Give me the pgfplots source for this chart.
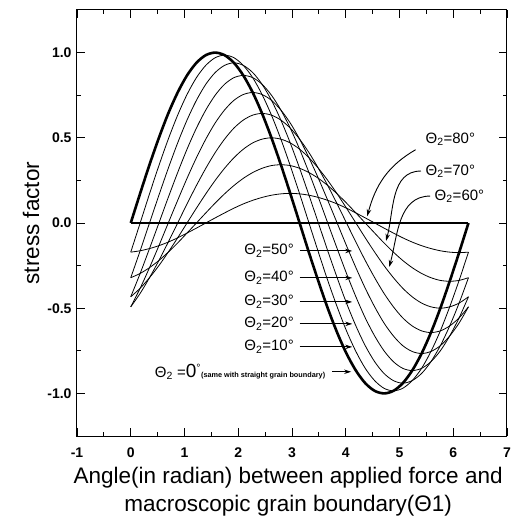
\documentclass[border=0pt]{standalone}
\usepackage{fontspec}
\setmainfont{Liberation Sans}
\usepackage{pgfplots}
\pgfplotsset{compat=1.18}
\usepackage{pgfplotstable}
\usetikzlibrary{arrows.meta}

% stress factor vs theta1, one column per theta2 (0..80 deg)
\pgfplotstableread{
x     s0     s10    s20    s30    s40    s50    s60    s70    s80
0.000  0.000 -0.171 -0.321 -0.433 -0.492 -0.492 -0.433 -0.321 -0.171
0.175  0.174  0.000 -0.163 -0.296 -0.383 -0.413 -0.383 -0.296 -0.163
0.349  0.342  0.171  0.000 -0.150 -0.262 -0.321 -0.321 -0.262 -0.150
0.524  0.500  0.337  0.163  0.000 -0.133 -0.220 -0.250 -0.220 -0.133
0.698  0.643  0.492  0.321  0.150  0.000 -0.112 -0.171 -0.171 -0.112
0.873  0.766  0.633  0.470  0.296  0.133  0.000 -0.087 -0.117 -0.087
1.047  0.866  0.754  0.604  0.433  0.262  0.112  0.000 -0.059 -0.059
1.222  0.940  0.853  0.720  0.557  0.383  0.220  0.087  0.000 -0.030
1.396  0.985  0.925  0.814  0.663  0.492  0.321  0.171  0.059  0.000
1.571  1.000  0.970  0.883  0.750  0.587  0.413  0.250  0.117  0.030
1.745  0.985  0.985  0.925  0.814  0.663  0.492  0.321  0.171  0.059
1.920  0.940  0.970  0.940  0.853  0.720  0.557  0.383  0.220  0.087
2.094  0.866  0.925  0.925  0.866  0.754  0.604  0.433  0.262  0.112
2.269  0.766  0.853  0.883  0.853  0.766  0.633  0.470  0.296  0.133
2.443  0.643  0.754  0.814  0.814  0.754  0.643  0.492  0.321  0.150
2.618  0.500  0.633  0.720  0.750  0.720  0.633  0.500  0.337  0.163
2.793  0.342  0.492  0.604  0.663  0.663  0.604  0.492  0.342  0.171
2.967  0.174  0.337  0.470  0.557  0.587  0.557  0.470  0.337  0.174
3.142  0.000  0.171  0.321  0.433  0.492  0.492  0.433  0.321  0.171
3.316 -0.174  0.000  0.163  0.296  0.383  0.413  0.383  0.296  0.163
3.491 -0.342 -0.171  0.000  0.150  0.262  0.321  0.321  0.262  0.150
3.665 -0.500 -0.337 -0.163  0.000  0.133  0.220  0.250  0.220  0.133
3.840 -0.643 -0.492 -0.321 -0.150  0.000  0.112  0.171  0.171  0.112
4.014 -0.766 -0.633 -0.470 -0.296 -0.133  0.000  0.087  0.117  0.087
4.189 -0.866 -0.754 -0.604 -0.433 -0.262 -0.112  0.000  0.059  0.059
4.363 -0.940 -0.853 -0.720 -0.557 -0.383 -0.220 -0.087  0.000  0.030
4.538 -0.985 -0.925 -0.814 -0.663 -0.492 -0.321 -0.171 -0.059  0.000
4.712 -1.000 -0.970 -0.883 -0.750 -0.587 -0.413 -0.250 -0.117 -0.030
4.887 -0.985 -0.985 -0.925 -0.814 -0.663 -0.492 -0.321 -0.171 -0.059
5.061 -0.940 -0.970 -0.940 -0.853 -0.720 -0.557 -0.383 -0.220 -0.087
5.236 -0.866 -0.925 -0.925 -0.866 -0.754 -0.604 -0.433 -0.262 -0.112
5.411 -0.766 -0.853 -0.883 -0.853 -0.766 -0.633 -0.470 -0.296 -0.133
5.585 -0.643 -0.754 -0.814 -0.814 -0.754 -0.643 -0.492 -0.321 -0.150
5.760 -0.500 -0.633 -0.720 -0.750 -0.720 -0.633 -0.500 -0.337 -0.163
5.934 -0.342 -0.492 -0.604 -0.663 -0.663 -0.604 -0.492 -0.342 -0.171
6.109 -0.174 -0.337 -0.470 -0.557 -0.587 -0.557 -0.470 -0.337 -0.174
6.283  0.000 -0.171 -0.321 -0.433 -0.492 -0.492 -0.433 -0.321 -0.171
}\stress

\newcommand\lab{\fontsize{15}{17}\selectfont}
\tikzset{arr/.style={-{Stealth[length=7pt,width=4.5pt]}, line width=0.9pt}}

\begin{document}
\begin{tikzpicture}
\begin{axis}[
    at={(0,0)}, anchor=south west,
    scale only axis, width=430pt, height=426pt,
    xmin=-1, xmax=7, ymin=-1.25, ymax=1.25,
    xtick={-1,0,...,7}, ytick={-1,-0.5,0,0.5,1},
    minor x tick num=1, minor y tick num=1,
    tick align=inside,
    major tick length=8pt, minor tick length=4pt,
    every tick/.style={black, line width=0.8pt},
    axis line style={line width=1pt},
    /pgf/number format/assume math mode=true,
    every tick label/.style={font=\fontsize{14}{16}\selectfont\bfseries},
    xticklabel style={yshift=-8pt},
    yticklabel style={xshift=-2pt, /pgf/number format/.cd, fixed, fixed zerofill, precision=1},
    xlabel={Angle(in radian) between applied force and\\macroscopic grain boundary(Θ1)},
    xlabel style={align=center, font=\fontsize{22.5}{27.5}\selectfont, inner sep=0pt,
        at={(axis description cs:0.491,0)}, anchor=north, yshift=-31pt},
    ylabel={stress factor},
    ylabel style={font=\fontsize{22.5}{26}\selectfont, inner sep=0pt,
        at={(axis description cs:-0.107,0.5)}, anchor=center},
    clip=false,
]
\addplot[black, line width=0.8pt, smooth] table[x=x, y=s10] {\stress};
\addplot[black, line width=0.8pt, smooth] table[x=x, y=s20] {\stress};
\addplot[black, line width=0.8pt, smooth] table[x=x, y=s30] {\stress};
\addplot[black, line width=0.8pt, smooth] table[x=x, y=s40] {\stress};
\addplot[black, line width=0.8pt, smooth] table[x=x, y=s50] {\stress};
\addplot[black, line width=0.8pt, smooth] table[x=x, y=s60] {\stress};
\addplot[black, line width=0.8pt, smooth] table[x=x, y=s70] {\stress};
\addplot[black, line width=0.8pt, smooth] table[x=x, y=s80] {\stress};
\addplot[black, line width=2.6pt, smooth] table[x=x, y=s0] {\stress};
% theta2 = 90 deg: zero everywhere
\addplot[black, line width=2.6pt] coordinates {(0,0) (6.283,0)};

% labels and arrows
\node[anchor=west, font=\lab] at (axis cs:5.42,0.49) {Θ\textsubscript{2}=80°};
\node[anchor=west, font=\lab] at (axis cs:5.42,0.305) {Θ\textsubscript{2}=70°};
\node[anchor=west, font=\lab] at (axis cs:5.59,0.158) {Θ\textsubscript{2}=60°};
\draw[arr] (axis cs:5.30,0.43) to[out=210,in=75] (axis cs:4.40,0.04);
\draw[arr] (axis cs:5.40,0.305) to[out=180,in=75] (axis cs:4.75,-0.105);
\draw[arr] (axis cs:5.57,0.158) to[out=180,in=75] (axis cs:4.81,-0.258);

\node[anchor=east, font=\lab] at (axis cs:3.10,-0.164) {Θ\textsubscript{2}=50°};
\node[anchor=east, font=\lab] at (axis cs:3.10,-0.322) {Θ\textsubscript{2}=40°};
\node[anchor=east, font=\lab] at (axis cs:3.10,-0.463) {Θ\textsubscript{2}=30°};
\node[anchor=east, font=\lab] at (axis cs:3.10,-0.592) {Θ\textsubscript{2}=20°};
\node[anchor=east, font=\lab] at (axis cs:3.10,-0.727) {Θ\textsubscript{2}=10°};
\draw[arr] (axis cs:3.14,-0.164) -- (axis cs:4.12,-0.164);
\draw[arr] (axis cs:3.14,-0.322) -- (axis cs:4.12,-0.322);
\draw[arr] (axis cs:3.14,-0.463) -- (axis cs:4.12,-0.463);
\draw[arr] (axis cs:3.14,-0.592) -- (axis cs:4.12,-0.592);
\draw[arr] (axis cs:3.14,-0.727) -- (axis cs:4.12,-0.727);
\node[anchor=east, inner sep=1pt] at (axis cs:3.64,-0.873)
  {{\lab Θ\textsubscript{2} =}{\fontsize{19}{20}\selectfont 0}{\lab\textsuperscript{°}}{\fontsize{7.3}{8}\selectfont\bfseries(same with straight grain boundary)}};
\draw[arr] (axis cs:3.75,-0.873) -- (axis cs:4.10,-0.873);
\end{axis}
\pgfresetboundingbox
\path (-77pt,-89pt) rectangle (438pt,436pt);
\end{tikzpicture}
\end{document}
